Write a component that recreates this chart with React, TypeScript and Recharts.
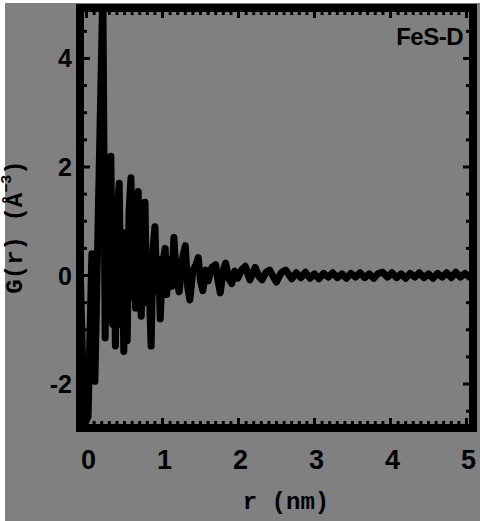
import { Line, LineChart, XAxis, YAxis } from "recharts";

// G(r), r in nm
const rValues = [
	-0.08, -0.03, 0.02, 0.07, 0.11, 0.215, 0.245, 0.27, 0.29, 0.32, 0.345, 0.36,
	0.38, 0.405, 0.43, 0.455, 0.47, 0.49, 0.515, 0.535, 0.56, 0.585, 0.605, 0.625,
	0.645, 0.68, 0.7, 0.72, 0.745, 0.77, 0.79, 0.81, 0.85, 0.875, 0.9, 0.925,
	0.95, 0.97, 1.0, 1.035, 1.055, 1.09, 1.12, 1.15, 1.185, 1.22, 1.26, 1.3,
	1.33, 1.36, 1.4, 1.44, 1.47, 1.5, 1.53, 1.57, 1.6, 1.65, 1.7, 1.73, 1.76,
	1.8, 1.83, 1.87, 1.91, 1.95, 1.99, 2.04, 2.09, 2.15, 2.22, 2.27, 2.31, 2.36,
	2.41, 2.46, 2.5, 2.56, 2.62, 2.7, 2.76, 2.82, 2.88, 2.94, 3.0, 3.06, 3.12,
	3.18, 3.24, 3.3, 3.36, 3.42, 3.48, 3.54, 3.6, 3.66, 3.72, 3.78, 3.84, 3.9,
	3.96, 4.02, 4.08, 4.14, 4.2, 4.26, 4.32, 4.38, 4.44, 4.5, 4.56, 4.62, 4.68,
	4.74, 4.8, 4.86, 4.92, 4.98, 5.04, 5.09,
];
const gValues = [
	-0.05, -2.75, -2.6, 0.4, -1.95, 5.3, -1.15, 1.2, -0.8, 2.2, -0.9, 1.0, -1.3,
	1.2, 1.7, -0.9, 0.8, -1.4, 0.3, -1.2, 1.2, 1.8, -0.4, 0.9, -0.6, 1.55, -0.2,
	-0.75, 0.8, 1.35, -0.5, 0.4, -1.3, 0.5, 0.9, -0.3, 0.3, -0.8, 0.2, 0.5, -0.35,
	0.3, -0.2, 0.7, -0.1, -0.3, 0.3, 0.55, -0.2, -0.45, 0.1, 0.2, 0.33, -0.1,
	-0.28, 0.1, -0.1, 0.15, 0.2, -0.1, -0.32, 0.1, 0.23, -0.05, -0.15, 0.08,
	-0.05, 0.1, 0.17, -0.08, 0.15, -0.02, -0.08, 0.06, 0.1, -0.03, -0.12, 0.05,
	0.1, -0.06, 0.05, -0.04, 0.06, -0.05, 0.03, -0.06, 0.04, -0.03, 0.05, -0.04,
	0.03, -0.05, 0.04, -0.03, 0.05, -0.04, 0.03, -0.05, 0.04, 0.06, -0.03, 0.05,
	-0.04, 0.03, -0.05, 0.04, -0.03, 0.05, -0.04, 0.03, -0.05, 0.04, -0.03,
	0.05, -0.04, 0.06, -0.03, 0.04, -0.03, 0.0,
];

const xMajorTicks = [0, 1, 2, 3, 4, 5];
const yMajorTicks = [-2, 0, 2, 4];
const xTickLabels = ["0", "1", "2", "3", "4", "5"];
const yTickLabels = ["-2", "0", "2", "4"];
const sampleName = "FeS-D";
const xTitle = "r (nm)";

const xMinorTicks = Array.from({ length: 51 }, (_, i) => i / 10);
const yMinorTicks = Array.from({ length: 15 }, (_, i) => -2.5 + i / 2);

const data = rValues.map((r, i) => ({ r, g: gValues[i] }));

const X_DOMAIN: [number, number] = [-0.086, 5.086];
const Y_DOMAIN: [number, number] = [-2.81, 4.93];

const frame = {
	stroke: "#000",
	strokeWidth: 8,
	strokeLinecap: "square" as const,
};
const tickFont = "'Liberation Sans', Arial, sans-serif";
const titleFont = "'Liberation Mono', 'Courier New', monospace";

const isMajor = (v: number, majors: number[]) =>
	majors.includes(Math.round(v * 10) / 10);

function BottomTick({ x, y, payload }: any) {
	const v = payload.value;
	const major = isMajor(v, xMajorTicks);
	const idx = xMajorTicks.indexOf(Math.round(v * 10) / 10);
	return (
		<g>
			<line x1={x} x2={x} y1={y} y2={y - (major ? 10 : 7)} stroke="#000" strokeWidth={3} />
			{major && (
				<text
					x={x + 2}
					y={y + 41}
					textAnchor="middle"
					fontFamily={tickFont}
					fontWeight="bold"
					fontSize={27}
					fill="#000"
				>
					{xTickLabels[idx]}
				</text>
			)}
		</g>
	);
}

function TopTick({ x, y, payload }: any) {
	const major = isMajor(payload.value, xMajorTicks);
	return (
		<line x1={x} x2={x} y1={y} y2={y + (major ? 10 : 7)} stroke="#000" strokeWidth={3} />
	);
}

function LeftTick({ x, y, payload }: any) {
	const v = payload.value;
	const major = isMajor(v, yMajorTicks);
	const idx = yMajorTicks.indexOf(v);
	return (
		<g>
			<line x1={x} x2={x + (major ? 10 : 7)} y1={y} y2={y} stroke="#000" strokeWidth={3} />
			{major && (
				<text
					x={x - 8}
					y={y + 9}
					textAnchor="end"
					fontFamily={tickFont}
					fontWeight="bold"
					fontSize={25}
					fill="#000"
				>
					{yTickLabels[idx]}
				</text>
			)}
		</g>
	);
}

function RightTick({ x, y, payload }: any) {
	const major = isMajor(payload.value, yMajorTicks);
	return (
		<line x1={x} x2={x - (major ? 10 : 7)} y1={y} y2={y} stroke="#000" strokeWidth={3} />
	);
}

export default function App() {
	return (
		<div
			style={{
				position: "fixed",
				left: 0,
				top: 0,
				width: 480,
				height: 521,
				background: "#fff",
			}}
		>
			<div
				style={{
					position: "absolute",
					left: 5,
					top: 3,
					width: 475,
					height: 518,
					background: "#808080",
				}}
			/>
			<div style={{ position: "absolute", left: 0, top: 0 }}>
				<LineChart
					width={480}
					height={521}
					data={data}
					margin={{ top: 7, right: 6, bottom: 33, left: 0 }}
				>
					<XAxis
						xAxisId="bottom"
						dataKey="r"
						type="number"
						domain={X_DOMAIN}
						allowDataOverflow
						ticks={xMinorTicks}
						interval={0}
						tickLine={false}
						tickSize={0}
						tickMargin={0}
						tick={(p: any) => <BottomTick {...p} />}
						axisLine={frame}
						height={60}
						label={{
							content: () => (
								<text
									x={286}
									y={509}
									textAnchor="middle"
									fontFamily={titleFont}
									fontWeight="bold"
									fontSize={24}
									fill="#000"
								>
									{xTitle}
								</text>
							),
						}}
					/>
					<XAxis
						xAxisId="top"
						dataKey="r"
						orientation="top"
						type="number"
						domain={X_DOMAIN}
						allowDataOverflow
						ticks={xMinorTicks}
						interval={0}
						tickLine={false}
						tickSize={0}
						tickMargin={0}
						tick={(p: any) => <TopTick {...p} />}
						axisLine={frame}
						height={1}
						label={{
							content: () => (
								<text
									x={463}
									y={45}
									textAnchor="end"
									fontFamily={tickFont}
									fontWeight="bold"
									fontSize={24}
									letterSpacing={-0.5}
									fill="#000"
								>
									{sampleName}
								</text>
							),
						}}
					/>
					<YAxis
						yAxisId="left"
						type="number"
						domain={Y_DOMAIN}
						allowDataOverflow
						ticks={yMinorTicks}
						interval={0}
						tickLine={false}
						tickSize={0}
						tickMargin={0}
						tick={(p: any) => <LeftTick {...p} />}
						axisLine={frame}
						width={80}
						label={{
							content: () => (
								<text
									x={15}
									y={227}
									transform="rotate(-90, 15, 227)"
									textAnchor="middle"
									dominantBaseline="central"
									fontFamily={titleFont}
									fontWeight="bold"
									fontSize={24}
									fill="#000"
								>
									G(r) (Å
									<tspan dy={-8} fontSize={15}>
										−3
									</tspan>
									<tspan dy={8}>)</tspan>
								</text>
							),
						}}
					/>
					<YAxis
						yAxisId="right"
						orientation="right"
						type="number"
						domain={Y_DOMAIN}
						allowDataOverflow
						ticks={yMinorTicks}
						interval={0}
						tickLine={false}
						tickSize={0}
						tickMargin={0}
						tick={(p: any) => <RightTick {...p} />}
						axisLine={frame}
						width={1}
					/>
					{/* invisible series so the top and right frame axes get drawn */}
					<Line
						xAxisId="top"
						yAxisId="right"
						dataKey="g"
						stroke="none"
						dot={false}
						activeDot={false}
						isAnimationActive={false}
					/>
					<Line
						xAxisId="bottom"
						yAxisId="left"
						dataKey="g"
						type="linear"
						stroke="#000"
						strokeWidth={7}
						strokeLinejoin="round"
						dot={false}
						activeDot={false}
						isAnimationActive={false}
					/>
				</LineChart>
			</div>
		</div>
	);
}
